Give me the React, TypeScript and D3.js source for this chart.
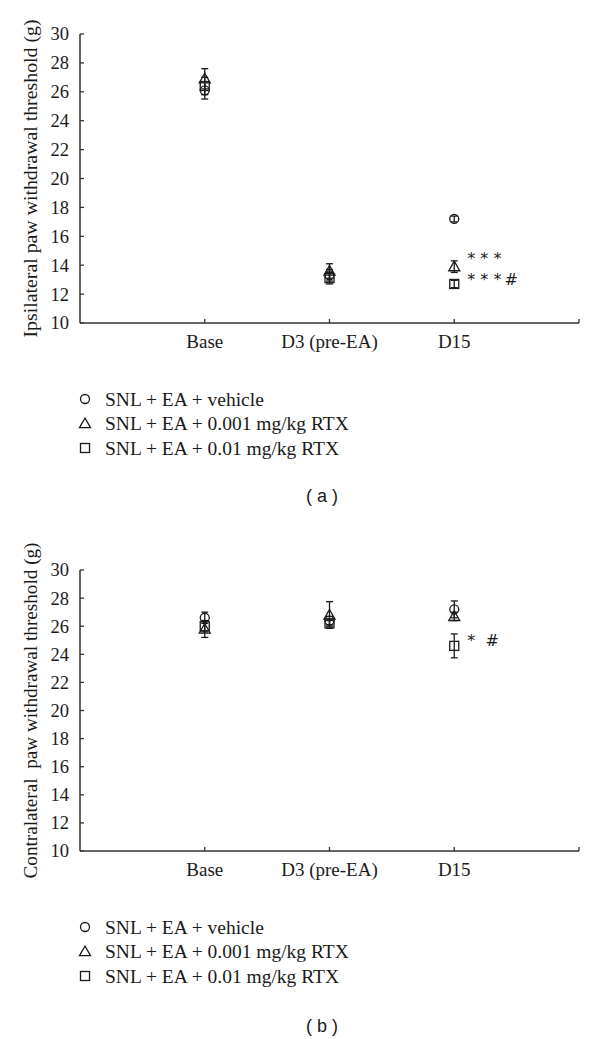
import React from 'react';
import { scaleLinear, range } from 'd3';

// categories and tick labels
const categories = ['Base', 'D3 (pre-EA)', 'D15'];
const yTicks = range(10, 31, 2);
const seriesNames = [
    'SNL + EA + vehicle',
    'SNL + EA + 0.001 mg/kg RTX',
    'SNL + EA + 0.01 mg/kg RTX'
];
const seriesShapes = ['circle', 'triangle', 'square'];

// panel (a) ipsilateral: means and errors, one entry per category
const ipsiVehicle = [26.1, 13.3, 17.2];
const ipsiVehicleErr = [0.6, 0.4, 0.2];
const ipsiRtxLow = [26.9, 13.6, 13.9];
const ipsiRtxLowErr = [0.7, 0.5, 0.4];
const ipsiRtxHigh = [26.4, 13.1, 12.7];
const ipsiRtxHighErr = [0.6, 0.4, 0.25];
const ipsiMarks = [
    { text: '* * *', cat: 2, value: 14.8 },
    { text: '* * *\u2009#', cat: 2, value: 13.3 }
];

// panel (b) contralateral
const contraVehicle = [26.6, 26.4, 27.2];
const contraVehicleErr = [0.4, 0.3, 0.6];
const contraRtxLow = [25.8, 26.8, 26.7];
const contraRtxLowErr = [0.6, 0.95, 0.3];
const contraRtxHigh = [26.0, 26.2, 24.6];
const contraRtxHighErr = [0.4, 0.2, 0.85];
const contraMarks = [
    { text: '*  #', cat: 2, value: 25.3 }
];

const INK = '#1a1a1a';
const AXIS = '#333';
const SERIF = '"Liberation Serif", "Times New Roman", serif';

const Marker = ({ shape, x, y }: { shape: string; x: number; y: number }) => {
    const common = { fill: 'none', stroke: INK, strokeWidth: 1.3 };
    if (shape === 'circle') return <circle cx={x} cy={y} r={4.5} {...common} />;
    if (shape === 'triangle') {
        const s = 5.5;
        return <path d={`M${x},${y - s}L${x + s},${y + s * 0.75}L${x - s},${y + s * 0.75}Z`} {...common} />;
    }
    return <rect x={x - 4.5} y={y - 4.5} width={9} height={9} {...common} />;
};

type PanelProps = {
    top: number;
    bottom: number;
    yTitle: string;
    titleLen: number;
    series: Array<{ values: number[]; errs: number[] }>;
    marks: Array<{ text: string; cat: number; value: number }>;
    legendY: number;
    caption: string;
    captionY: number;
};

const Panel = (props: PanelProps) => {
    const { top, bottom, yTitle, titleLen, series, marks, legendY, caption, captionY } = props;
    const left = 80;
    const right = 579;

    // four slots across the axis, categories sit on slots 1..3
    const x = scaleLinear().domain([0, 4]).range([left, right]);
    const y = scaleLinear().domain([10, 30]).range([bottom, top]);

    return (
        <g>
            {/* y axis */}
            <line x1={left} x2={left} y1={y(10)} y2={y(30)} stroke={AXIS} strokeWidth={1.5} />
            {yTicks.map((t) => (
                <g key={t}>
                    <line x1={left} x2={left + 4} y1={y(t)} y2={y(t)} stroke={AXIS} strokeWidth={1.3} />
                    <text x={69} y={y(t)} dy="0.35em" textAnchor="end" fontFamily={SERIF} fontSize={18.5} fill={INK}>
                        {t}
                    </text>
                </g>
            ))}
            <text
                transform={`translate(37,${(top + bottom) / 2}) rotate(-90)`}
                textAnchor="middle"
                fontFamily={SERIF}
                fontSize={18}
                fill={INK}
                textLength={titleLen}
                lengthAdjust="spacingAndGlyphs"
                style={{ whiteSpace: 'pre' }}
            >
                {yTitle}
            </text>

            {/* x axis */}
            <line x1={left} x2={right} y1={bottom} y2={bottom} stroke={AXIS} strokeWidth={1.5} />
            {[1, 2, 3, 4].map((i) => (
                <line key={i} x1={x(i)} x2={x(i)} y1={bottom} y2={bottom - 4} stroke={AXIS} strokeWidth={1.3} />
            ))}
            {categories.map((c, i) => (
                <text key={c} x={x(i + 1)} y={bottom + 25} textAnchor="middle" fontFamily={SERIF} fontSize={19} fill={INK}>
                    {c}
                </text>
            ))}

            {/* error bars */}
            {series.map((s, si) =>
                s.values.map((v, i) => {
                    const cx = x(i + 1);
                    const hi = y(v + s.errs[i]);
                    const lo = y(v - s.errs[i]);
                    return (
                        <g key={`e${si}-${i}`} stroke={INK} strokeWidth={1.3}>
                            <line x1={cx} x2={cx} y1={hi} y2={lo} />
                            <line x1={cx - 3.5} x2={cx + 3.5} y1={hi} y2={hi} />
                            <line x1={cx - 3.5} x2={cx + 3.5} y1={lo} y2={lo} />
                        </g>
                    );
                })
            )}
            {/* markers */}
            {series.map((s, si) =>
                s.values.map((v, i) => (
                    <Marker key={`m${si}-${i}`} shape={seriesShapes[si]} x={x(i + 1)} y={y(v)} />
                ))
            )}

            {/* significance marks */}
            {marks.map((m, i) => (
                <text
                    key={i}
                    x={x(m.cat + 1) + 13}
                    y={y(m.value)}
                    dy="0.62em"
                    fontFamily='"DejaVu Sans", sans-serif'
                    fontSize={16}
                    fill={INK}
                    style={{ whiteSpace: 'pre' }}
                >
                    {m.text}
                </text>
            ))}

            {/* legend */}
            {seriesNames.map((n, i) => (
                <g key={n}>
                    <Marker shape={seriesShapes[i]} x={85} y={legendY + i * 24.5} />
                    <text x={105} y={legendY + i * 24.5} dy="0.35em" fontFamily={SERIF} fontSize={19.5} fill={INK}>
                        {n}
                    </text>
                </g>
            ))}

            <text
                x={322}
                y={captionY}
                textAnchor="middle"
                fontFamily='"Liberation Sans", Arial, sans-serif'
                fontSize={18}
                fill={INK}
                style={{ whiteSpace: 'pre' }}
            >
                {caption}
            </text>
        </g>
    );
};

export default function App() {
    return (
        <div style={{ position: 'absolute', left: 0, top: 0 }}>
            <svg width={600} height={1039} style={{ display: 'block', background: '#fff' }}>
                <Panel
                    top={34}
                    bottom={323}
                    yTitle="Ipsilateral paw withdrawal threshold (g)"
                    titleLen={318}
                    series={[
                        { values: ipsiVehicle, errs: ipsiVehicleErr },
                        { values: ipsiRtxLow, errs: ipsiRtxLowErr },
                        { values: ipsiRtxHigh, errs: ipsiRtxHighErr }
                    ]}
                    marks={ipsiMarks}
                    legendY={399}
                    caption="( a )"
                    captionY={502}
                />
                <Panel
                    top={570}
                    bottom={851}
                    yTitle="Contralateral  paw withdrawal threshold (g)"
                    titleLen={336}
                    series={[
                        { values: contraVehicle, errs: contraVehicleErr },
                        { values: contraRtxLow, errs: contraRtxLowErr },
                        { values: contraRtxHigh, errs: contraRtxHighErr }
                    ]}
                    marks={contraMarks}
                    legendY={927}
                    caption="( b )"
                    captionY={1032}
                />
            </svg>
        </div>
    );
}
